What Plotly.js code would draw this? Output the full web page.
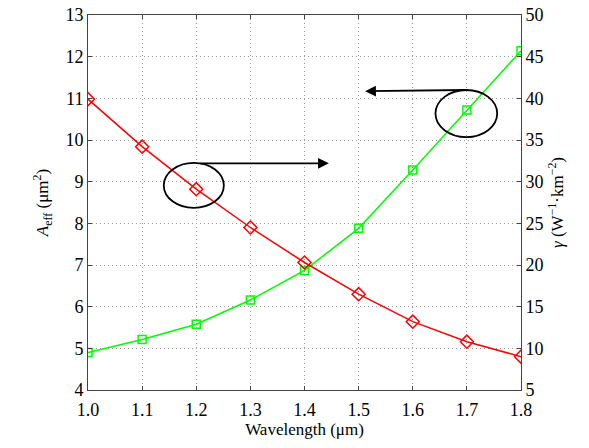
<!DOCTYPE html>
<html>
<head>
<meta charset="utf-8">
<script src="https://cdn.plot.ly/plotly-3.0.1.min.js"></script>
<style>
html,body{margin:0;padding:0;background:#fff;}
#chart{width:589px;height:448px;}
#chart svg text{font-family:"Liberation Serif","Times New Roman","DejaVu Serif",serif !important;}
</style>
</head>
<body>
<div id="chart"></div>
<script>
const wavelength = [1.0, 1.1, 1.2, 1.3, 1.4, 1.5, 1.6, 1.7, 1.8];
const aeff = [4.90, 5.21, 5.58, 6.16, 6.87, 7.88, 9.28, 10.72, 12.14];
const gammaVals = [39.9, 34.2, 29.1, 24.5, 20.3, 16.5, 13.2, 10.8, 9.0];
const xTicks = [1.0, 1.1, 1.2, 1.3, 1.4, 1.5, 1.6, 1.7, 1.8];
const yTicks = [4, 5, 6, 7, 8, 9, 10, 11, 12, 13];
const y2Ticks = [5, 10, 15, 20, 25, 30, 35, 40, 45, 50];

const FAM = 'Liberation Serif';

const traces = [
  {x: wavelength, y: aeff, type: 'scatter', mode: 'lines+markers', yaxis: 'y',
   line: {color: '#00ff00', width: 1.5},
   marker: {symbol: 'square-open', size: 8, color: '#00ff00', line: {width: 1.5}}},
  {x: wavelength, y: gammaVals, type: 'scatter', mode: 'lines+markers', yaxis: 'y2',
   line: {color: '#ff0000', width: 1.5},
   marker: {symbol: 'diamond-open', size: 10, color: '#ff0000', line: {width: 1.5}}}
];

const layout = {
  width: 589, height: 448,
  margin: {l: 88, r: 68, t: 15, b: 58},
  paper_bgcolor: '#fff', plot_bgcolor: '#fff',
  showlegend: false,
  font: {family: FAM, size: 18, color: '#000'},
  xaxis: {
    range: [1.0, 1.8], tickvals: xTicks, tickformat: '.1f',
    tickfont: {family: FAM, size: 18, color: '#000'},
    showline: true, mirror: 'ticks', linecolor: '#444', linewidth: 1,
    ticks: 'inside', ticklen: 4, tickcolor: '#444',
    showgrid: true, gridcolor: '#999', griddash: '1px,3px', gridwidth: 1,
    zeroline: false, ticklabelstandoff: 3,
    title: {text: 'Wavelength (μm)', font: {family: FAM, size: 17, color: '#000'}, standoff: 2}
  },
  yaxis: {
    range: [4, 13], tickvals: yTicks,
    tickfont: {family: FAM, size: 18, color: '#000'},
    showline: true, mirror: false, linecolor: '#444', linewidth: 1,
    ticks: 'inside', ticklen: 4, tickcolor: '#444',
    showgrid: true, gridcolor: '#999', griddash: '1px,3px', gridwidth: 1,
    zeroline: false,
    title: {text: '<i>A</i><sub>eff</sub> (μm<sup>2</sup>)', font: {family: FAM, size: 17, color: '#000'}, standoff: 12}
  },
  yaxis2: {
    range: [5, 50], tickvals: y2Ticks, overlaying: 'y', side: 'right',
    tickfont: {family: FAM, size: 18, color: '#000'},
    showline: true, linecolor: '#444', linewidth: 1,
    ticks: 'inside', ticklen: 4, tickcolor: '#444',
    showgrid: false, zeroline: false,
    title: {text: '<i>γ</i> (W<sup>−1</sup>·km<sup>−2</sup>)', font: {family: FAM, size: 17, color: '#000'}, standoff: 8}
  },
  shapes: [
    {type: 'circle', xref: 'x', yref: 'y', x0: 1.140, x1: 1.251, y0: 8.37, y1: 9.45, line: {color: '#000', width: 1.8}},
    {type: 'circle', xref: 'x', yref: 'y', x0: 1.642, x1: 1.756, y0: 10.07, y1: 11.2, line: {color: '#000', width: 1.8}}
  ],
  annotations: [
    {xref: 'x', yref: 'y', x: 1.445, y: 9.44, ax: 1.205, ay: 9.44, axref: 'x', ayref: 'y',
     text: '', showarrow: true, arrowhead: 2, arrowsize: 1.2, arrowwidth: 1.8, arrowcolor: '#000'},
    {xref: 'x', yref: 'y', x: 1.512, y: 11.17, ax: 1.7, ay: 11.2, axref: 'x', ayref: 'y',
     text: '', showarrow: true, arrowhead: 2, arrowsize: 1.2, arrowwidth: 1.8, arrowcolor: '#000'}
  ]
};

Plotly.newPlot('chart', traces, layout, {displayModeBar: false, staticPlot: true});
</script>
</body>
</html>
